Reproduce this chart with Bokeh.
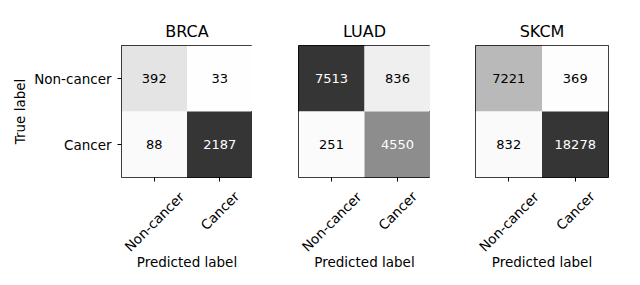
import numpy as np
from bokeh.plotting import figure
from bokeh.layouts import row, column
from bokeh.models import ColumnDataSource, LinearColorMapper, FactorRange, Range1d
from bokeh.core.properties import value
from bokeh.embed import file_html
from bokeh.resources import INLINE

# ---- data ----
titles = ["BRCA", "LUAD", "SKCM"]
class_labels = ["Non-cancer", "Cancer"]
# rows = true label, cols = predicted label
brca = [[392, 33], [88, 2187]]
luad = [[7513, 836], [251, 4550]]
skcm = [[7221, 369], [832, 18278]]
matrices = [brca, luad, skcm]
x_title = "Predicted label"
y_title = "True label"

FONT = "DejaVu Sans"
LABEL_FS = 13.5
palette = ["#%02x%02x%02x" % (v, v, v)
           for v in (255 - 202 * np.linspace(0, 1, 256) ** 1.15).round().astype(int)]

# layout geometry (pixels)
frame_w = [131, 132, 133]
border_l = [121, 46, 45]
border_r = [0, 0, 12]
ANG = np.pi / 4
LAB_H = 70          # height of the strip holding the rotated tick labels
TOP_GAP = 5


def style_axis(ax):
    ax.axis_line_color = None
    ax.major_tick_in = 0
    ax.major_tick_out = 4
    ax.minor_tick_out = 0
    ax.major_tick_line_color = "black"
    ax.major_label_text_font = FONT
    ax.major_label_text_font_size = f"{LABEL_FS}px"
    ax.major_label_text_color = "black"
    ax.axis_label_text_font = FONT
    ax.axis_label_text_font_size = f"{LABEL_FS}px"
    ax.axis_label_text_font_style = "normal"
    ax.axis_label_text_color = "black"


cols = []
for i, (title, m) in enumerate(zip(titles, matrices)):
    arr = np.array(m)
    vmax = arr.max()
    xs, ys, vals, txt, tcol = [], [], [], [], []
    for r in range(2):
        for c in range(2):
            xs.append(class_labels[c])
            ys.append(class_labels[r])
            vals.append(arr[r, c])
            txt.append(str(arr[r, c]))
            tcol.append("white" if arr[r, c] > vmax / 2 else "black")
    src = ColumnDataSource(dict(x=xs, y=ys, v=vals, t=txt, tc=tcol))
    mapper = LinearColorMapper(palette=palette, low=0, high=vmax)
    xr = FactorRange(*class_labels)

    p = figure(
        x_range=xr,
        y_range=FactorRange(*class_labels[::-1]),
        frame_width=frame_w[i], frame_height=132,
        min_border_left=border_l[i], min_border_right=border_r[i],
        min_border_top=45, min_border_bottom=6,
        output_backend="svg", toolbar_location=None, tools="",
        title=title,
    )
    p.rect(x="x", y="y", width=1, height=1, source=src,
           fill_color={"field": "v", "transform": mapper}, line_color=None)
    p.text(x="x", y="y", text="t", source=src, text_color="tc",
           text_align="center", text_baseline="middle",
           text_font=value(FONT), text_font_size="13px")

    p.title.align = "center"
    p.title.text_font = FONT
    p.title.text_font_size = "16px"
    p.title.text_font_style = "normal"
    p.title.text_color = "black"

    p.outline_line_color = "black"
    p.outline_line_width = 1
    p.grid.visible = False
    p.background_fill_color = "white"
    p.border_fill_color = "white"

    style_axis(p.xaxis[0])
    style_axis(p.yaxis[0])
    p.xaxis.major_label_text_color = None
    p.xaxis.major_label_standoff = 0
    p.yaxis.major_label_standoff = 6

    if i == 0:
        p.yaxis.axis_label = y_title
        p.yaxis.axis_label_standoff = 3
    else:
        p.yaxis.visible = False

    # strip below: rotated tick labels, centred under the ticks, plus axis title
    q = figure(
        x_range=xr, y_range=Range1d(-LAB_H, 0),
        frame_width=frame_w[i], frame_height=LAB_H,
        min_border_left=border_l[i], min_border_right=border_r[i],
        min_border_top=0, min_border_bottom=24,
        output_backend="svg", toolbar_location=None, tools="",
    )
    halves = [(0.58 * len(s) * LABEL_FS * np.sin(ANG) + 1.15 * LABEL_FS * np.cos(ANG)) / 2
              for s in class_labels]
    lsrc = ColumnDataSource(dict(x=class_labels, y=[-(TOP_GAP + h) for h in halves],
                                 t=class_labels))
    q.text(x="x", y="y", text="t", source=lsrc, angle=ANG,
           text_align="center", text_baseline="middle", text_color="black",
           text_font=value(FONT), text_font_size=f"{LABEL_FS}px")
    q.outline_line_color = None
    q.grid.visible = False
    q.yaxis.visible = False
    style_axis(q.xaxis[0])
    q.xaxis.major_tick_out = 0
    q.xaxis.major_tick_line_color = None
    q.xaxis.major_label_text_color = None
    q.xaxis.major_label_standoff = 0
    q.xaxis.axis_label = x_title
    q.xaxis.axis_label_standoff = 0
    q.background_fill_color = "white"
    q.border_fill_color = "white"

    cols.append(column(p, q, spacing=0))

layout = row(*cols, spacing=0)
open("out.html", "w").write(file_html(layout, INLINE))
